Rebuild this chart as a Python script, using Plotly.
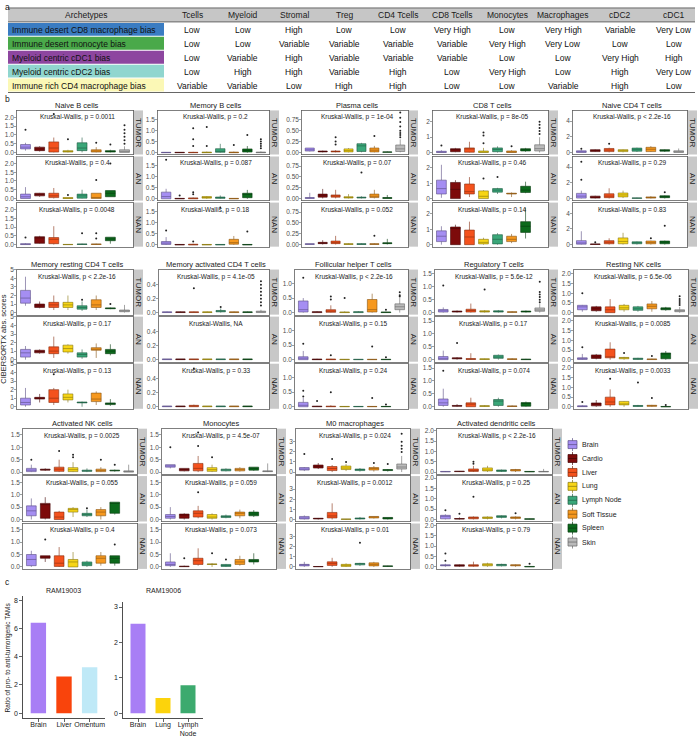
import plotly.graph_objects as go

W, H = 699, 737
FONT = "Arial, 'Liberation Sans', Helvetica, sans-serif"

# ------------------------------------------------------------------ data
table_header = ["Archetypes", "Tcells", "Myeloid", "Stromal", "Treg", "CD4 Tcells",
                "CD8 Tcells", "Monocytes", "Macrophages", "cDC2", "cDC1"]
archetypes = ["Immune desert CD8 macrophage bias", "Immune desert monocyte bias",
              "Myeloid centric cDC1 bias", "Myeloid centric cDC2 bias",
              "Immune rich CD4 macrophage bias"]
archetype_colors = ["#3a7cc2", "#4aa94a", "#8d469f", "#90d6cf", "#fbf8b6"]
col_tcells = ["Low", "Low", "Low", "Low", "Variable"]
col_myeloid = ["Low", "Low", "Variable", "High", "Variable"]
col_stromal = ["High", "Variable", "High", "High", "Low"]
col_treg = ["Low", "Variable", "Variable", "Variable", "High"]
col_cd4 = ["Low", "Variable", "Variable", "High", "High"]
col_cd8 = ["Very High", "Variable", "Variable", "Low", "Low"]
col_mono = ["Low", "Very High", "Low", "Very High", "Low"]
col_macro = ["Very High", "Very Low", "Low", "Low", "Variable"]
col_cdc2 = ["Variable", "Low", "Very High", "High", "High"]
col_cdc1 = ["Very Low", "Low", "High", "Very Low", "Low"]

sites = ["Brain", "Cardio", "Liver", "Lung", "Lymph Node", "Soft Tissue", "Spleen", "Skin"]
site_colors = ["#a58ef2", "#7d0b0b", "#f4521d", "#f7d516", "#3aa779", "#f6981e", "#0c6a1c", "#bababa"]
tissues = ["TUMOR", "AN", "NAN"]

# box stats per site: (lower whisker, q1, median, q3, upper whisker)
naive_b = {
    "TUMOR": [(0.1, 0.2, 0.3, 0.45, 0.55), (0.05, 0.1, 0.2, 0.3, 0.35), (0, 0.02, 0.25, 0.6, 0.85), (0, 0.02, 0.05, 0.1, 0.15),
              (0, 0.1, 0.25, 0.55, 0.85), (0, 0.02, 0.07, 0.15, 0.3), (0, 0.02, 0.06, 0.1, 0.15), (0, 0, 0.05, 0.15, 0.35)],
    "AN": [(0, 0, 0.1, 0.25, 0.65), (0.1, 0.15, 0.22, 0.3, 0.32), (0, 0.05, 0.15, 0.3, 0.6), (0, 0, 0.02, 0.05, 0.05),
           (0, 0.02, 0.15, 0.25, 0.5), (0, 0, 0.05, 0.3, 0.3), (0.1, 0.1, 0.3, 0.45, 0.45)],
    "NAN": [(0, 0, 0.02, 0.05, 0.08), (0.05, 0.07, 0.38, 0.45, 0.5), (0, 0.05, 0.3, 0.4, 1.05), (0, 0, 0, 0.01, 0.01),
            (0, 0.01, 0.02, 0.03, 0.05), (0, 0.01, 0.02, 0.03, 0.05), (0.05, 0.22, 0.32, 0.42, 0.42)],
}
naive_b_out = {"TUMOR": [(0, 1.3), (2, 2.2), (3, 0.75), (5, 0.55), (6, 0.45), (7, 0.5), (7, 0.7), (7, 0.9), (7, 1.1), (7, 1.3), (7, 1.55)],
               "AN": [(3, 0.2), (5, 1.05), (6, 2.0)],
               "NAN": [(0, 0.4), (4, 0.65), (5, 0.65), (5, 0.35)]}

memory_b = {
    "TUMOR": [(0, 0, 0.01, 0.02, 0.03), (0, 0, 0.01, 0.02, 0.03), (0, 0, 0.01, 0.02, 0.04), (0, 0, 0.01, 0.03, 0.05),
              (0, 0.02, 0.05, 0.18, 0.4), (0, 0, 0.01, 0.03, 0.05), (0, 0.03, 0.1, 0.17, 0.3), (0, 0, 0.01, 0.03, 0.06)],
    "AN": [(0, 0, 0.1, 0.3, 0.45), (0, 0, 0.01, 0.02, 0.03), (0, 0, 0.02, 0.04, 0.06), (0, 0.03, 0.06, 0.1, 0.12),
           (0, 0.02, 0.05, 0.08, 0.15), (0, 0, 0.01, 0.02, 0.02), (0, 0.05, 0.2, 0.25, 0.4)],
    "NAN": [(0, 0.02, 0.08, 0.15, 0.35), (0, 0, 0.01, 0.02, 0.03), (0, 0, 0.01, 0.03, 0.05), (0, 0, 0.01, 0.02, 0.03),
            (0, 0, 0.01, 0.02, 0.02), (0, 0.03, 0.1, 0.25, 0.4), (0, 0, 0.01, 0.02, 0.02)],
}
memory_b_out = {"TUMOR": [(2, 1.1), (2, 0.6), (2, 0.3), (3, 1.15), (3, 0.3), (5, 0.35), (6, 0.8), (7, 0.2), (7, 0.3), (7, 0.4), (7, 0.5), (7, 0.6)],
                "AN": [(0, 1.75), (1, 0.15), (2, 0.3), (2, 0.2)],
                "NAN": [(0, 0.65), (2, 0.15), (6, 0.6), (4, 1.68)]}

plasma = {
    "TUMOR": [(0.02, 0.03, 0.06, 0.1, 0.1), (0, 0.01, 0.02, 0.03, 0.04), (0, 0.01, 0.02, 0.03, 0.05), (0, 0.01, 0.04, 0.08, 0.1),
              (0, 0.02, 0.15, 0.2, 0.22), (0, 0.01, 0.05, 0.1, 0.15), (0, 0, 0.01, 0.01, 0.02), (0, 0.02, 0.08, 0.17, 0.3)],
    "AN": [(0, 0, 0.01, 0.02, 0.13), (0, 0.03, 0.07, 0.1, 0.22), (0, 0.03, 0.06, 0.08, 0.2), (0, 0.01, 0.02, 0.04, 0.1),
           (0, 0.01, 0.02, 0.03, 0.05), (0, 0.02, 0.05, 0.1, 0.2), (0, 0, 0.01, 0.02, 0.08)],
    "NAN": [(0, 0, 0.01, 0.02, 0.02), (0, 0.02, 0.03, 0.05, 0.1), (0, 0.02, 0.04, 0.08, 0.2), (0, 0, 0.01, 0.02, 0.03),
            (0, 0, 0.01, 0.02, 0.03), (0, 0, 0.01, 0.02, 0.03), (0, 0.02, 0.03, 0.04, 0.13)],
}
plasma_out = {"TUMOR": [(2, 0.35), (2, 0.25), (2, 0.18), (5, 0.38), (7, 0.35), (7, 0.4), (7, 0.45), (7, 0.5), (7, 0.6), (7, 0.7), (7, 0.8), (7, 0.92)],
              "AN": [(4, 0.6)],
              "NAN": [(5, 0.2)]}

cd8 = {
    "TUMOR": [(0, 0, 0.03, 0.08, 0.15), (0.02, 0.05, 0.2, 0.25, 0.3), (0, 0.02, 0.25, 0.3, 0.7), (0, 0, 0.03, 0.1, 0.3),
              (0, 0.05, 0.2, 0.3, 0.4), (0, 0, 0.03, 0.1, 0.15), (0.05, 0.1, 0.2, 0.25, 0.3), (0, 0.1, 0.25, 0.5, 1.0)],
    "AN": [(0.05, 0.3, 0.65, 1.2, 2.2), (0, 0, 0.6, 1.05, 1.2), (0.1, 0.3, 0.45, 0.95, 1.4), (0, 0, 0.15, 0.5, 0.55),
           (0.3, 0.42, 0.55, 0.65, 0.7), (0.1, 0.3, 0.33, 0.35, 0.4), (0.35, 0.4, 0.55, 0.8, 1.1)],
    "NAN": [(0, 0.2, 0.55, 0.9, 1.2), (0, 0, 1.05, 1.15, 1.3), (0, 0, 0.5, 0.95, 1.5), (0, 0.05, 0.15, 0.35, 0.45),
            (0, 0.05, 0.35, 0.65, 0.75), (0.1, 0.2, 0.35, 0.55, 0.7), (0.4, 0.8, 1.2, 1.5, 2.4)],
}
cd8_out = {"TUMOR": [(0, 0.45), (3, 1.3), (3, 1.1), (3, 0.6), (5, 0.4), (7, 1.2), (7, 1.4), (7, 1.6), (7, 1.8), (7, 2.0)],
           "AN": [(3, 1.3), (4, 1.4)],
           "NAN": []}

naive_cd4 = {
    "TUMOR": [(0, 0, 0.05, 0.2, 0.3), (0.05, 0.1, 0.25, 0.35, 0.4), (0, 0.1, 0.3, 0.5, 0.6), (0, 0.1, 0.25, 0.35, 0.4),
              (0.05, 0.15, 0.35, 0.55, 0.6), (0.05, 0.1, 0.4, 0.65, 0.8), (0.05, 0.15, 0.25, 0.35, 0.4), (0, 0, 0.05, 0.2, 0.5)],
    "AN": [(0, 0.05, 0.3, 0.65, 1.0), (0, 0.05, 0.15, 0.3, 0.35), (0, 0.1, 0.3, 0.6, 1.3), (0.05, 0.2, 0.45, 0.7, 1.0),
           (0, 0.02, 0.05, 0.07, 0.1), (0, 0.05, 0.12, 0.2, 0.3), (0, 0.1, 0.2, 0.35, 0.4)],
    "NAN": [(0, 0.05, 0.2, 0.5, 1.7), (0, 0.02, 0.05, 0.07, 0.1), (0, 0.1, 0.3, 0.5, 0.8), (0, 0.1, 0.4, 0.85, 1.5),
            (0, 0.1, 0.2, 0.35, 0.4), (0, 0.1, 0.25, 0.45, 0.5), (0, 0.1, 0.3, 0.45, 0.5)],
}
naive_cd4_out = {"TUMOR": [(0, 0.45), (2, 1.1)],
                 "AN": [(0, 2.4), (0, 4.7), (6, 0.8)],
                 "NAN": [(1, 0.3), (5, 0.8), (6, 2.4)]}

mem_rest_cd4 = {
    "TUMOR": [(0.8, 1.1, 1.7, 2.6, 4.2), (0.5, 0.6, 0.8, 1.0, 1.3), (0.3, 0.6, 0.9, 1.2, 2.0), (0.3, 0.6, 0.9, 1.2, 2.0),
              (0.2, 0.4, 0.6, 0.8, 1.3), (0.3, 0.6, 0.9, 1.5, 2.0), (0.4, 0.45, 0.5, 0.55, 0.6), (0, 0.1, 0.2, 0.3, 0.9)],
    "AN": [(0, 0.3, 0.8, 1.2, 1.6), (0.7, 0.8, 0.95, 1.1, 1.2), (0.2, 0.7, 1.0, 1.5, 2.7), (0.7, 0.9, 1.3, 1.7, 1.8),
           (0.1, 0.3, 0.6, 0.8, 1.2), (0.2, 1.1, 1.2, 1.4, 1.9), (0.5, 0.7, 1.0, 1.2, 1.8)],
    "NAN": [(0, 0.2, 0.5, 1.0, 2.2), (0.5, 0.9, 1.0, 1.1, 1.5), (0.2, 0.5, 1.0, 2.0, 2.2), (0.5, 0.8, 1.1, 1.5, 2.0),
            (0, 0.45, 0.5, 0.55, 0.6), (0.2, 0.6, 0.9, 1.6, 1.8), (0.1, 0.25, 0.35, 0.45, 0.9)],
}
mem_rest_cd4_out = {"TUMOR": [(4, 1.5), (6, 1.0)], "AN": [], "NAN": [(2, 3.8)]}

mem_act_cd4 = {
    "TUMOR": [(0, 0, 0.005, 0.01, 0.015), (0, 0, 0.005, 0.01, 0.015), (0, 0, 0.005, 0.01, 0.015), (0, 0, 0.005, 0.01, 0.015),
              (0, 0.01, 0.02, 0.03, 0.06), (0, 0, 0.005, 0.01, 0.015), (0, 0, 0.005, 0.01, 0.015), (0, 0, 0.01, 0.02, 0.04)],
    "AN": [(0, 0, 0.005, 0.01, 0.01)] * 7,
    "NAN": [(0, 0, 0.005, 0.01, 0.01), (0, 0, 0.005, 0.01, 0.01), (0, 0, 0.01, 0.02, 0.03), (0, 0, 0.005, 0.01, 0.01),
            (0, 0, 0.005, 0.01, 0.01), (0, 0, 0.005, 0.01, 0.01), (0, 0, 0.005, 0.01, 0.01)],
}
mem_act_cd4_out = {"TUMOR": [(2, 0.35), (4, 0.08), (7, 0.1), (7, 0.15), (7, 0.2), (7, 0.25), (7, 0.3), (7, 0.35), (7, 0.4), (7, 0.45)],
                   "AN": [], "NAN": [(2, 0.55)]}

follicular = {
    "TUMOR": [(0, 0.02, 0.1, 0.4, 0.5), (0, 0, 0.02, 0.03, 0.05), (0, 0.01, 0.05, 0.1, 0.25), (0, 0, 0.01, 0.02, 0.04),
              (0, 0, 0.02, 0.03, 0.05), (0, 0.02, 0.1, 0.45, 0.65), (0, 0, 0.01, 0.02, 0.03), (0, 0.1, 0.2, 0.3, 0.5)],
    "AN": [(0, 0, 0.05, 0.1, 0.3), (0, 0, 0.01, 0.02, 0.03), (0, 0, 0.01, 0.02, 0.03), (0, 0, 0.01, 0.01, 0.02),
           (0, 0, 0.01, 0.01, 0.02), (0, 0, 0.01, 0.01, 0.02), (0, 0, 0.01, 0.01, 0.02)],
    "NAN": [(0, 0, 0.05, 0.15, 0.3), (0, 0, 0.01, 0.02, 0.03), (0, 0, 0.01, 0.02, 0.05), (0, 0, 0.01, 0.01, 0.02),
            (0, 0, 0.01, 0.01, 0.02), (0, 0, 0.01, 0.01, 0.02), (0, 0, 0.01, 0.01, 0.02)],
}
follicular_out = {"TUMOR": [(0, 1.2), (2, 0.55), (2, 0.45), (3, 0.5), (6, 0.1), (7, 0.55), (7, 0.6), (7, 0.7)],
                  "AN": [(0, 0.55), (2, 0.15), (5, 0.45), (6, 0.08)],
                  "NAN": [(0, 0.55), (0, 0.35), (1, 0.2), (2, 0.5), (5, 0.3), (6, 0.08)]}

regulatory = {
    "TUMOR": [(0, 0.02, 0.07, 0.12, 0.2), (0, 0.02, 0.04, 0.06, 0.08), (0, 0.02, 0.08, 0.13, 0.35), (0, 0.02, 0.04, 0.07, 0.1),
              (0, 0.02, 0.04, 0.07, 0.1), (0, 0.01, 0.02, 0.03, 0.05), (0, 0.02, 0.04, 0.06, 0.08), (0, 0.05, 0.1, 0.18, 0.35)],
    "AN": [(0, 0, 0.05, 0.12, 0.35), (0, 0.03, 0.05, 0.07, 0.1), (0, 0.01, 0.02, 0.04, 0.25), (0, 0.01, 0.02, 0.03, 0.04),
           (0, 0.05, 0.1, 0.17, 0.2), (0, 0.01, 0.02, 0.03, 0.05), (0, 0, 0.01, 0.02, 0.03)],
    "NAN": [(0, 0.05, 0.15, 0.3, 0.7), (0, 0.02, 0.03, 0.05, 0.1), (0, 0, 0.1, 0.15, 0.35), (0, 0.01, 0.03, 0.04, 0.06),
            (0, 0.05, 0.22, 0.28, 0.35), (0, 0.01, 0.02, 0.03, 0.05), (0, 0.02, 0.15, 0.16, 0.2)],
}
regulatory_out = {"TUMOR": [(0, 1.05), (3, 0.9), (7, 0.4), (7, 0.5), (7, 0.6), (7, 0.7), (7, 0.8), (7, 1.2)],
                  "AN": [(1, 0.65)], "NAN": [(0, 1.4)]}

resting_nk = {
    "TUMOR": [(0.05, 0.15, 0.3, 0.38, 0.4), (0.05, 0.1, 0.2, 0.3, 0.35), (0, 0, 0.15, 0.3, 0.7), (0.05, 0.15, 0.25, 0.38, 0.45),
              (0.05, 0.12, 0.2, 0.3, 0.35), (0.05, 0.2, 0.33, 0.45, 0.6), (0.1, 0.15, 0.2, 0.25, 0.3), (0, 0.05, 0.1, 0.15, 0.3)],
    "AN": [(0, 0.02, 0.05, 0.1, 0.3), (0.02, 0.07, 0.15, 0.25, 0.3), (0, 0.1, 0.15, 0.55, 0.9), (0, 0.05, 0.1, 0.12, 0.15),
           (0, 0.02, 0.05, 0.08, 0.1), (0, 0.01, 0.03, 0.04, 0.05), (0, 0.05, 0.3, 0.35, 0.45)],
    "NAN": [(0, 0.01, 0.03, 0.05, 0.08), (0, 0.05, 0.15, 0.2, 0.35), (0, 0.1, 0.25, 0.5, 0.9), (0, 0.1, 0.15, 0.28, 0.3),
            (0, 0.02, 0.05, 0.07, 0.1), (0, 0.03, 0.05, 0.08, 0.1), (0, 0, 0.01, 0.02, 0.03)],
}
resting_nk_out = {"TUMOR": [(0, 1.0), (7, 0.4), (7, 0.5), (7, 0.6), (7, 0.7), (7, 0.85)],
                  "AN": [(0, 0.65), (3, 0.35), (5, 0.2)],
                  "NAN": [(0, 0.25), (2, 1.45), (4, 1.25), (5, 0.45), (6, 0.1)]}

act_nk = {
    "TUMOR": [(0, 0.02, 0.08, 0.15, 0.3), (0.05, 0.08, 0.1, 0.12, 0.15), (0, 0.03, 0.12, 0.2, 0.5), (0, 0.02, 0.1, 0.18, 0.4),
              (0, 0.03, 0.05, 0.08, 0.15), (0, 0.02, 0.07, 0.12, 0.2), (0.02, 0.05, 0.06, 0.08, 0.1), (0, 0, 0.02, 0.05, 0.3)],
    "AN": [(0, 0.15, 0.35, 0.55, 0.85), (0, 0.05, 0.6, 0.65, 0.9), (0, 0, 0.1, 0.3, 0.35), (0.1, 0.3, 0.4, 0.45, 0.5),
           (0.1, 0.15, 0.2, 0.25, 0.4), (0, 0.15, 0.3, 0.4, 0.5), (0.2, 0.25, 0.65, 0.7, 0.7)],
    "NAN": [(0, 0.05, 0.3, 0.5, 0.65), (0.2, 0.35, 0.4, 0.45, 0.45), (0, 0.02, 0.15, 0.45, 0.8), (0, 0, 0.2, 0.3, 0.6),
            (0, 0.05, 0.12, 0.2, 0.25), (0.05, 0.15, 0.35, 0.45, 0.6), (0.05, 0.15, 0.35, 0.45, 0.45)],
}
act_nk_out = {"TUMOR": [(0, 0.5), (2, 0.85), (3, 0.7), (3, 0.6), (5, 0.5), (6, 0.3)],
              "AN": [(4, 0.45)], "NAN": [(1, 1.1), (6, 0.9)]}

monocytes = {
    "TUMOR": [(0.15, 0.2, 0.25, 0.3, 0.3), (0.03, 0.05, 0.1, 0.15, 0.15), (0, 0.05, 0.15, 0.35, 0.65), (0, 0.03, 0.1, 0.18, 0.3),
              (0.03, 0.05, 0.1, 0.12, 0.15), (0.02, 0.05, 0.1, 0.15, 0.2), (0.05, 0.08, 0.15, 0.2, 0.2), (0, 0.02, 0.03, 0.05, 0.35)],
    "AN": [(0, 0.05, 0.12, 0.2, 0.5), (0, 0.05, 0.2, 0.22, 0.25), (0.05, 0.1, 0.25, 0.35, 0.55), (0, 0.05, 0.1, 0.2, 0.25),
           (0.05, 0.08, 0.12, 0.15, 0.2), (0.05, 0.15, 0.25, 0.3, 0.4), (0.1, 0.15, 0.22, 0.3, 0.38)],
    "NAN": [(0, 0.05, 0.1, 0.2, 0.55), (0, 0.01, 0.02, 0.03, 0.05), (0.05, 0.1, 0.25, 0.35, 0.75), (0, 0.1, 0.11, 0.12, 0.15),
            (0, 0.02, 0.05, 0.1, 0.12), (0.05, 0.1, 0.2, 0.3, 0.45), (0.1, 0.2, 0.25, 0.3, 0.55)],
}
monocytes_out = {"TUMOR": [(0, 1.0), (2, 1.05), (3, 0.6), (2, 1.6)],
                 "AN": [(2, 1.1)], "NAN": [(1, 0.35), (3, 0.55), (4, 0.3)]}

m0 = {
    "TUMOR": [(0.1, 0.2, 0.3, 0.45, 0.5), (0.3, 0.4, 0.55, 0.7, 0.9), (0, 0.15, 0.35, 0.55, 0.7), (0.1, 0.25, 0.4, 0.6, 0.8),
              (0.05, 0.15, 0.25, 0.3, 0.4), (0.05, 0.2, 0.35, 0.45, 0.6), (0.05, 0.15, 0.2, 0.25, 0.3), (0, 0.3, 0.5, 0.8, 1.6)],
    "AN": [(0, 0.05, 0.15, 0.3, 0.4), (0, 0.05, 0.1, 0.12, 0.15), (0, 0.15, 0.35, 0.7, 1.6), (0, 0.02, 0.03, 0.04, 0.05),
           (0, 0.05, 0.1, 0.15, 0.25), (0.1, 0.15, 0.25, 0.3, 0.3), (0, 0.05, 0.15, 0.2, 0.2)],
    "NAN": [(0, 0.1, 0.2, 0.25, 0.5), (0, 0.02, 0.03, 0.04, 0.05), (0, 0.15, 0.35, 0.5, 0.9), (0, 0.05, 0.15, 0.25, 0.35),
            (0.1, 0.2, 0.3, 0.35, 0.4), (0, 0.1, 0.25, 0.4, 0.5), (0, 0.05, 0.08, 0.1, 0.12)],
}
m0_out = {"TUMOR": [(0, 1.8), (2, 1.3), (3, 1.0), (5, 0.9), (6, 0.8), (7, 2.0), (7, 2.3), (7, 2.6), (7, 3.0), (7, 3.8)],
          "AN": [], "NAN": [(4, 2.4)]}

act_dc = {
    "TUMOR": [(0, 0.01, 0.02, 0.03, 0.04), (0, 0.02, 0.03, 0.04, 0.05), (0, 0.03, 0.07, 0.15, 0.3), (0, 0.05, 0.1, 0.2, 0.3),
              (0, 0.03, 0.07, 0.1, 0.12), (0, 0.05, 0.1, 0.12, 0.15), (0, 0.01, 0.02, 0.03, 0.04), (0, 0.01, 0.02, 0.03, 0.15)],
    "AN": [(0, 0.03, 0.15, 0.2, 0.25), (0, 0.02, 0.03, 0.04, 0.1), (0, 0.03, 0.08, 0.12, 0.15), (0, 0.05, 0.08, 0.12, 0.15),
           (0.05, 0.1, 0.15, 0.18, 0.2), (0, 0.05, 0.1, 0.12, 0.15), (0, 0.01, 0.02, 0.03, 0.04)],
    "NAN": [(0, 0.05, 0.07, 0.1, 0.15), (0, 0.03, 0.07, 0.1, 0.12), (0, 0.03, 0.07, 0.1, 0.25), (0, 0.05, 0.08, 0.15, 0.2),
            (0.02, 0.05, 0.1, 0.12, 0.15), (0, 0.05, 0.08, 0.1, 0.12), (0, 0, 0.01, 0.02, 0.03)],
}
act_dc_out = {"TUMOR": [(2, 0.5), (2, 0.4)],
              "AN": [(0, 0.45), (1, 0.28), (2, 1.1), (5, 0.3)],
              "NAN": [(0, 0.65), (0, 0.3), (6, 0.15)]}

panel_titles = ["Naive B cells", "Memory B cells", "Plasma cells", "CD8 T cells", "Naive CD4 T cells",
                "Memory resting CD4 T cells", "Memory activated CD4 T cells", "Follicular helper T cells",
                "Regulatory T cells", "Resting NK cells",
                "Activated NK cells", "Monocytes", "M0 macrophages", "Activated dendritic cells"]
panel_stats = [naive_b, memory_b, plasma, cd8, naive_cd4, mem_rest_cd4, mem_act_cd4, follicular,
               regulatory, resting_nk, act_nk, monocytes, m0, act_dc]
panel_outliers = [naive_b_out, memory_b_out, plasma_out, cd8_out, naive_cd4_out, mem_rest_cd4_out,
                  mem_act_cd4_out, follicular_out, regulatory_out, resting_nk_out, act_nk_out,
                  monocytes_out, m0_out, act_dc_out]
kruskal_p = [["p = 0.0011", "p = 0.4", "p = 0.0048"], ["p = 0.2", "p = 0.087", "p = 0.18"],
             ["p = 1e-04", "p = 0.07", "p = 0.052"], ["p = 8e-05", "p = 0.46", "p = 0.14"],
             ["p < 2.2e-16", "p = 0.29", "p = 0.83"], ["p < 2.2e-16", "p = 0.17", "p = 0.13"],
             ["p = 4.1e-05", "NA", "p = 0.33"], ["p < 2.2e-16", "p = 0.15", "p = 0.24"],
             ["p = 5.6e-12", "p = 0.17", "p = 0.074"], ["p = 6.5e-06", "p = 0.0085", "p = 0.0033"],
             ["p = 0.0025", "p = 0.055", "p = 0.4"], ["p = 4.5e-07", "p = 0.059", "p = 0.073"],
             ["p = 0.024", "p = 0.0012", "p = 0.01"], ["p < 2.2e-16", "p = 0.25", "p = 0.79"]]
panel_yrange = [(-0.12, 2.4), (-0.08, 1.9), (-0.05, 0.97), (-0.13, 2.74), (-0.27, 5.36),
                (-0.24, 5.04), (-0.03, 0.62), (-0.07, 1.48), (-0.08, 1.67), (-0.1, 2.22),
                (-0.08, 1.75), (-0.08, 1.75), (-0.2, 4.3), (-0.1, 2.1)]
panel_ticks = [[0, 0.5, 1, 1.5, 2], [0, 0.5, 1, 1.5], [0, 0.25, 0.5, 0.75], [0, 1, 2], [0, 2, 4],
               [0, 1, 2, 3, 4, 5], [0, 0.2, 0.4], [0, 0.5, 1.0], [0, 0.5, 1, 1.5], [0, 0.5, 1, 1.5, 2],
               [0, 0.5, 1, 1.5], [0, 0.5, 1, 1.5], [0, 1, 2, 3], [0, 0.5, 1, 1.5, 2]]
panel_decimals = [1, 1, 2, 0, 0, 0, 1, 1, 1, 1, 1, 1, 0, 1]

ram19003_sites = ["Brain", "Liver", "Omentum"]
ram19003_ratio = [6.42, 2.6, 3.25]
ram19003_colors = ["#a87ef5", "#f9440c", "#bfe9f7"]
ram19006_sites = ["Brain", "Lung", "Lymph Node"]
ram19006_ratio = [2.53, 0.43, 0.79]
ram19006_colors = ["#a87ef5", "#fcd30c", "#3caa6e"]

# ------------------------------------------------------------------ layout geometry (pixels)
def fx(p):
    return p / W


def fy(p):
    return 1 - p / H


def darker(hexc, f=0.55):
    r, g, b = int(hexc[1:3], 16), int(hexc[3:5], 16), int(hexc[5:7], 16)
    return f"rgb({int(r * f)},{int(g * f)},{int(b * f)})"


row_y = [(108, 245), (268, 408), (428, 569)]
row_x = [
    [(17, 133), (158, 269), (302, 408), (433, 548), (573, 687)],
    [(17, 133), (159, 269), (295, 408), (435, 548), (574, 688)],
    [(23, 137), (162, 276), (296, 410), (437, 552)],
]
STRIP = 10
GAP = 2
BORDER = "#5f5f5f"

fig = go.Figure()
shapes, annotations, axes = [], [], {}
counter = [0]


def new_axis():
    counter[0] += 1
    n = counter[0]
    s = "" if n == 1 else str(n)
    return "x" + s, "y" + s, "xaxis" + s, "yaxis" + s


def ann(text, x, y, size, **kw):
    d = dict(text=text, x=x, y=y, xref="paper", yref="paper", showarrow=False,
             xanchor="center", yanchor="middle",
             font=dict(size=size, color=kw.pop("color", "#1a1a1a"), family=FONT))
    d.update(kw)
    annotations.append(d)


# ------------------------------------------------------------------ panel a: table
table_columns = [archetypes, col_tcells, col_myeloid, col_stromal, col_treg, col_cd4,
                 col_cd8, col_mono, col_macro, col_cdc2, col_cdc1]
col_centers = [86, 192, 243, 294, 344, 398, 452, 507, 563, 620, 674]
TAB_L, TAB_R = 8, 695
HEAD_T, HEAD_B = 5, 19
ROW_H = 14
shapes.append(dict(type="rect", xref="paper", yref="paper", x0=fx(TAB_L), x1=fx(TAB_R),
                   y0=fy(HEAD_B), y1=fy(HEAD_T), fillcolor="#c6c6c6", line=dict(width=0), layer="below"))
for j, name in enumerate(table_header):
    ann(name, fx(col_centers[j]), fy((HEAD_T + HEAD_B) / 2 + 0.5), 8.5)
for i in range(len(archetypes)):
    r0 = HEAD_B + 1 + i * ROW_H
    shapes.append(dict(type="rect", xref="paper", yref="paper", x0=fx(TAB_L), x1=fx(164),
                       y0=fy(r0 + ROW_H - 1), y1=fy(r0), fillcolor=archetype_colors[i],
                       line=dict(width=0), layer="below"))
    cy = r0 + (ROW_H - 1) / 2 + 0.5
    for j, col in enumerate(table_columns):
        if j == 0:
            ann(col[i], fx(TAB_L + 2), fy(cy), 8.5, xanchor="left", color="#111111")
        else:
            ann(col[i], fx(col_centers[j]), fy(cy), 8.5, color="#111111")
for yy in (HEAD_T, HEAD_B, HEAD_B + 1 + 5 * ROW_H):
    shapes.append(dict(type="line", xref="paper", yref="paper", x0=fx(TAB_L), x1=fx(TAB_R),
                       y0=fy(yy), y1=fy(yy), line=dict(color="#666666", width=1)))
ann("a", fx(3), fy(4), 8.5, xanchor="left")

# ------------------------------------------------------------------ panel b: box plots
ann("b", fx(3), fy(97), 8.5, xanchor="left")
ann("CIBERSORTX abs. scores", fx(3.5), fy(338), 7.5, textangle=-90, borderpad=0)

p = 0
for r, (top, bot) in enumerate(row_y):
    h = (bot - top - 2 * GAP) / 3
    for (left, right) in row_x[r]:
        stats = panel_stats[p]
        outs = panel_outliers[p]
        yr = panel_yrange[p]
        tv = panel_ticks[p]
        dec = panel_decimals[p]
        ann(panel_titles[p], fx((left + right) / 2 + 2), fy(top - 5), 7.5)
        for t, tis in enumerate(tissues):
            t0 = top + t * (h + GAP)
            t1 = t0 + h
            xr, yref, xk, yk = new_axis()
            axes[xk] = dict(domain=[fx(left), fx(right)], range=[0.4, 8.6], anchor=yref,
                            showticklabels=False, ticks="", showgrid=False, zeroline=False,
                            showline=True, mirror=True, linecolor=BORDER, linewidth=0.8)
            axes[yk] = dict(domain=[fy(t1), fy(t0)], range=list(yr), anchor=xr,
                            tickvals=tv, ticktext=[f"{v:.{dec}f}" for v in tv],
                            ticks="outside", ticklen=2, tickwidth=0.6, tickcolor=BORDER,
                            ticklabelstandoff=-1,
                            tickfont=dict(size=6.5, color="#4d4d4d", family=FONT),
                            showgrid=False, zeroline=False, showline=True, mirror=True,
                            linecolor=BORDER, linewidth=0.8)
            for i, (lo, q1, med, q3, hi) in enumerate(stats[tis]):
                fig.add_trace(go.Box(
                    x=[i + 1], q1=[q1], median=[med], q3=[q3], lowerfence=[lo], upperfence=[hi],
                    width=0.7, whiskerwidth=0, boxpoints=False, fillcolor=site_colors[i],
                    line=dict(color=darker(site_colors[i]), width=0.6),
                    xaxis=xr, yaxis=yref, showlegend=False, hoverinfo="skip"))
            pts = outs[tis]
            if pts:
                fig.add_trace(go.Scatter(
                    x=[i + 1 for i, v in pts], y=[v for i, v in pts], mode="markers",
                    marker=dict(size=2, color="#222222"), xaxis=xr, yaxis=yref,
                    showlegend=False, hoverinfo="skip"))
            shapes.append(dict(type="rect", xref="paper", yref="paper", x0=fx(right), x1=fx(right + STRIP),
                               y0=fy(t1), y1=fy(t0), fillcolor="#c8c8c8", line=dict(width=0), layer="below"))
            ann(tis, fx(right + STRIP / 2 + 0.5), fy((t0 + t1) / 2), 8, textangle=90)
            label = "Kruskal-Wallis, " + kruskal_p[p][t]
            ann(label, fx((left + right) / 2 + 2), fy(t0 + 7), 6.5)
        p += 1

# legend
for i, (s, c) in enumerate(zip(sites, site_colors)):
    cy = 444 + 14 * i
    dk = darker(c)
    shapes.append(dict(type="line", xref="paper", yref="paper", x0=fx(572.5), x1=fx(572.5),
                       y0=fy(cy + 6.5), y1=fy(cy - 6.5), line=dict(color=dk, width=0.7)))
    shapes.append(dict(type="rect", xref="paper", yref="paper", x0=fx(568), x1=fx(577),
                       y0=fy(cy + 4), y1=fy(cy - 4), fillcolor=c, line=dict(color=dk, width=0.7)))
    shapes.append(dict(type="line", xref="paper", yref="paper", x0=fx(568), x1=fx(577),
                       y0=fy(cy), y1=fy(cy), line=dict(color=dk, width=0.7)))
    ann(s, fx(580), fy(cy), 7, xanchor="left")

# ------------------------------------------------------------------ panel c: bar charts
ann("c", fx(3), fy(582), 8.5, xanchor="left")
ann("Ratio of pro- to anti-tumorigenic TAMs", fx(8), fy(658), 6.5, textangle=-90)

bar_specs = [
    (ram19003_sites, ram19003_ratio, ram19003_colors, "RAM19003", (23, 105), (596, 719),
     [-0.35, 8.33], [0, 2, 4, 6, 8], 63),
    (ram19006_sites, ram19006_ratio, ram19006_colors, "RAM19006", (123, 203), (602, 719),
     [-0.14, 3.15], [0, 1, 2, 3], 163),
]
for cats, vals, cols, title, (l, rgt), (t, b), yr, tv, tx in bar_specs:
    xr, yref, xk, yk = new_axis()
    fig.add_trace(go.Bar(x=cats, y=vals, marker=dict(color=cols, line=dict(width=0)), width=0.6,
                         xaxis=xr, yaxis=yref, showlegend=False, hoverinfo="skip"))
    axes[xk] = dict(domain=[fx(l), fx(rgt)], anchor=yref, type="category", range=[-0.6, 2.6],
                    tickvals=cats, ticktext=[c.replace(" ", "<br>") for c in cats],
                    ticks="outside", ticklen=3, tickwidth=0.7, tickcolor="#222222",
                    ticklabelstandoff=-3,
                    tickfont=dict(size=7, color="#222222", family=FONT),
                    showline=True, linecolor="#222222", linewidth=0.8, showgrid=False, zeroline=False)
    axes[yk] = dict(domain=[fy(b), fy(t)], anchor=xr, range=yr, tickvals=tv,
                    ticks="outside", ticklen=3, tickwidth=0.7, tickcolor="#222222",
                    tickfont=dict(size=7, color="#222222", family=FONT),
                    showline=True, linecolor="#222222", linewidth=0.8, showgrid=False, zeroline=False)
    ann(title, fx(tx), fy(591), 7)

fig.update_layout(
    width=W, height=H, margin=dict(l=0, r=0, t=0, b=0),
    paper_bgcolor="white", plot_bgcolor="white", showlegend=False, hovermode=False,
    font=dict(family=FONT), shapes=shapes, annotations=annotations, boxmode="overlay",
    **axes,
)
fig.write_html("out.html", config={"displayModeBar": False, "staticPlot": True},
               post_script="document.body.style.margin='0';document.body.style.overflow='hidden';")
